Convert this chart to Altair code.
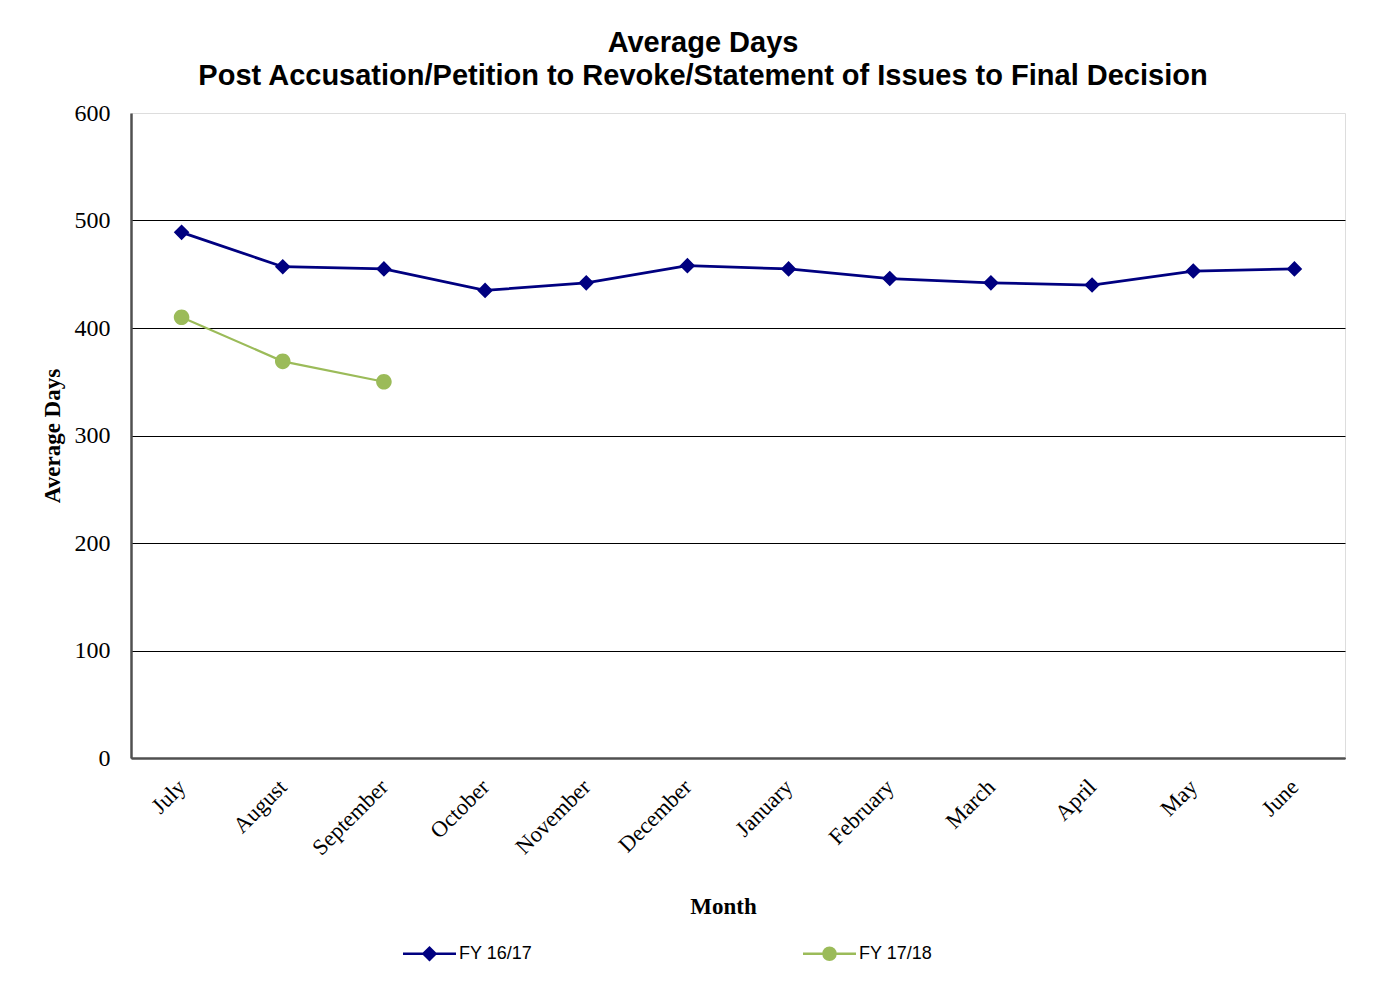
import altair as alt
import pandas as pd

months = ["July", "August", "September", "October", "November", "December",
          "January", "February", "March", "April", "May", "June"]
fy1617 = [489, 457, 455, 435, 442, 458, 455, 446, 442, 440, 453, 455]
fy1718 = [410, 369, 350]
series_names = ["FY 16/17", "FY 17/18"]
series_colors = ["#000080", "#9BBB59"]
series_widths = [2.75, 2.2]
y_ticks = [0, 100, 200, 300, 400, 500, 600]
title_lines = ["Average Days",
               "Post Accusation/Petition to Revoke/Statement of Issues to Final Decision"]

rows = [{"month": m, "days": v, "series": series_names[0]} for m, v in zip(months, fy1617)]
rows += [{"month": m, "days": v, "series": series_names[1]} for m, v in zip(months, fy1718)]
df = pd.DataFrame(rows)

# marker shapes: horizontal stub (visible only in the legend, as stroke) + filled marker
diamond_path = "M-2.65,0H2.65M-0.6,0L0,-0.6L0.6,0L0,0.6Z"
circle_path = "M-2.65,0H2.65M0.6,0A0.6,0.6,0,1,1,-0.6,0A0.6,0.6,0,1,1,0.6,0Z"

x_enc = alt.X(
    "month:N", sort=months,
    scale=alt.Scale(type="point", padding=0.5),
    axis=alt.Axis(
        title="Month", labelAngle=-45, labelAlign="right", labelBaseline="middle",
        labelFont="Liberation Serif", labelFontSize=22.5, labelColor="black",
        labelPadding=25, labelOverlap=False, ticks=False, grid=False,
        domainColor="#505050", domainWidth=2.5,
        titleFont="Liberation Serif", titleFontSize=23, titleFontWeight="bold",
        titleColor="black", titlePadding=36, titleX=592, titleAlign="center",
    ),
)
y_enc = alt.Y(
    "days:Q",
    scale=alt.Scale(domain=[0, 600], nice=False),
    axis=alt.Axis(
        title="Average Days", values=y_ticks,
        labelFont="Liberation Serif", labelFontSize=24, labelColor="black",
        labelPadding=21, ticks=False,
        grid=True, gridColor="black", gridWidth=1,
        gridOpacity=alt.condition("datum.value >= 600", alt.value(0), alt.value(1)),
        domainColor="#505050", domainWidth=2.5,
        titleFont="Liberation Serif", titleFontSize=23, titleFontWeight="bold",
        titleColor="black", titlePadding=10,
    ),
)

leg = alt.Legend(
    title=None, orient="none", legendX=287, legendY=829, direction="horizontal",
    symbolSize=400, symbolStrokeWidth=2.5, labelFont="Liberation Sans",
    labelFontSize=18, labelColor="black", labelOffset=18, columnPadding=265,
    padding=0,
)

line_layers = [
    alt.Chart(df).transform_filter(alt.datum.series == name)
    .mark_line(color=col, strokeWidth=w)
    .encode(x=x_enc, y=y_enc)
    for name, col, w in zip(series_names, series_colors, series_widths)
]

points = alt.Chart(df).mark_point(filled=True, size=676, opacity=1).encode(
    x=x_enc, y=y_enc,
    fill=alt.Fill("series:N", scale=alt.Scale(domain=series_names, range=series_colors), legend=leg),
    stroke=alt.Stroke("series:N", scale=alt.Scale(domain=series_names, range=series_colors), legend=leg),
    shape=alt.Shape("series:N", scale=alt.Scale(domain=series_names, range=[diamond_path, circle_path]), legend=leg),
    strokeWidth=alt.value(0),
)

chart = alt.layer(*line_layers, points).properties(
    width=1214, height=645,
    title=alt.TitleParams(
        text=title_lines, font="Liberation Sans", fontSize=29, fontWeight="bold",
        color="black", anchor="middle", dx=-35, lineHeight=33, offset=10,
    ),
    autosize=alt.AutoSizeParams(type="none"),
    padding={"left": 123, "top": 105, "right": 25, "bottom": 230},
).configure_view(stroke="#707070", strokeWidth=2.5).configure(background="white")

chart.save("out.html", embed_options={"renderer": "svg", "actions": False})
